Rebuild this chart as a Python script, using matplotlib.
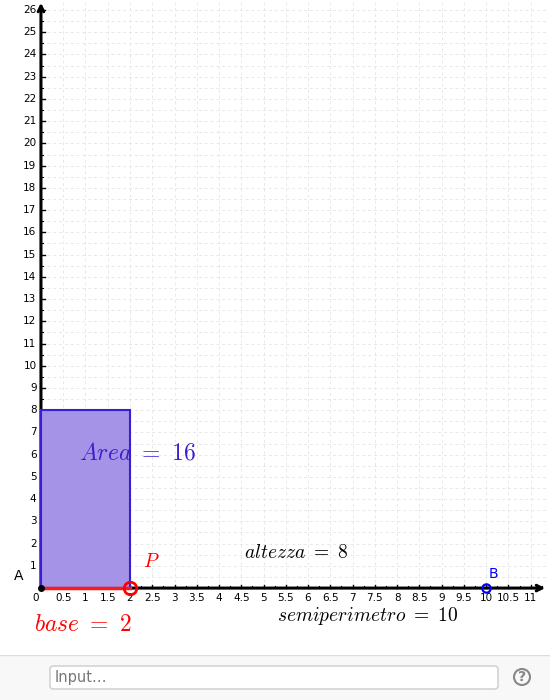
import matplotlib.pyplot as plt
from matplotlib.patches import Rectangle, FancyBboxPatch
import numpy as np

base = 2
altezza = 8
semiperimetro = 10
area = base * altezza
x_ticks = np.arange(0.5, 11.01, 0.5)
y_ticks = np.arange(1, 27)

plt.rcParams['mathtext.fontset'] = 'cm'
fig = plt.figure(figsize=(5.5, 7), dpi=100)
ax = fig.add_axes([0, 45 / 700, 548 / 550, 655 / 700])
ax.set_xlim(-0.92, 11.39)
ax.set_ylim(-3.01, 26.45)
ax.axis('off')

# grid
for gx in np.arange(0.5, 11.4, 0.5):
    ax.plot([gx, gx], [0, 26.45], color='#e8e8e8', lw=0.7, ls=(0, (3, 3)), zorder=0)
for gy in np.arange(0.5, 26.45, 0.5):
    ax.plot([0, 11.39], [gy, gy], color='#e8e8e8', lw=0.7, ls=(0, (3, 3)), zorder=0)

# axes with arrows
ax.annotate('', xy=(11.39, 0), xytext=(-0.02, 0),
            arrowprops=dict(arrowstyle='->', lw=2.2, color='black'))
ax.annotate('', xy=(0, 26.45), xytext=(0, -0.02),
            arrowprops=dict(arrowstyle='->', lw=2.2, color='black'))
for tx in x_ticks:
    ax.plot([tx, tx], [0, 0.15], color='black', lw=1)
    ax.text(tx, -0.22, '%g' % tx, ha='center', va='top', fontsize=7.5)
for tx in np.arange(0.25, 11.3, 0.5):
    ax.plot([tx, tx], [0, 0.08], color='black', lw=0.8)
ax.text(-0.05, -0.22, '0', ha='right', va='top', fontsize=7.5)
for ty in y_ticks:
    ax.plot([0, 0.08], [ty, ty], color='black', lw=1)
    ax.text(-0.1, ty, str(ty), ha='right', va='center', fontsize=7.5)
for ty in np.arange(0.5, 26.4, 1):
    ax.plot([0, 0.05], [ty, ty], color='black', lw=0.8)

# rectangle
ax.add_patch(Rectangle((0, 0), base, altezza, facecolor='#a493e6',
                       edgecolor='#3a1fd0', lw=1.5, zorder=3))
ax.plot([0, base], [0, 0], color='#ff1a1a', lw=2.5, zorder=4)
ax.plot([0], [0], 'o', color='black', ms=4, zorder=5)
ax.plot([base], [0], 'o', mfc='none', mec='#ff0000', mew=2, ms=9, zorder=5)
ax.plot([semiperimetro], [0], 'o', mfc='none', mec='#0000ff', mew=1.6, ms=6, zorder=5)

ax.text(-0.4, 0.55, 'A', fontsize=10, ha='right', va='center')
ax.text(2.3, 1.2, r'$P$', color='#ff0000', fontsize=14, ha='left', va='center')
ax.text(10.05, 0.65, 'B', color='#0000ff', fontsize=10, ha='left', va='center')
ax.text(0.85, 6.1, r'$Area\ =\ %d$' % area, color='#3a1fd0', fontsize=17, va='center')
ax.text(4.55, 1.6, r'$altezza\ =\ %d$' % altezza, fontsize=14, va='center')
ax.text(5.3, -1.25, r'$semiperimetro\ =\ %d$' % semiperimetro, fontsize=14, va='center')
ax.text(-0.15, -1.6, r'$base\ =\ %d$' % base, color='#ff0000', fontsize=17, va='center')

# bottom input bar
bar = fig.add_axes([0, 0, 1, 45 / 700])
bar.set_xlim(0, 550)
bar.set_ylim(0, 45)
bar.axis('off')
bar.add_patch(Rectangle((0, 0), 550, 45, facecolor='#f8f8f8', edgecolor='none'))
bar.plot([0, 550], [45, 45], color='#dddddd', lw=1)
bar.add_patch(FancyBboxPatch((50, 11), 448, 23, boxstyle='round,pad=0,rounding_size=3',
                             facecolor='white', edgecolor='#cccccc', lw=1))
bar.text(55, 22.5, 'Input…', color='#777777', fontsize=10.5, va='center')
bar.add_patch(plt.Circle((522, 23), 8, facecolor='none', edgecolor='#888888', lw=1.5))
bar.text(522, 23, '?', color='#888888', fontsize=10, ha='center', va='center', weight='bold')

fig.savefig('out.png', dpi=100)
